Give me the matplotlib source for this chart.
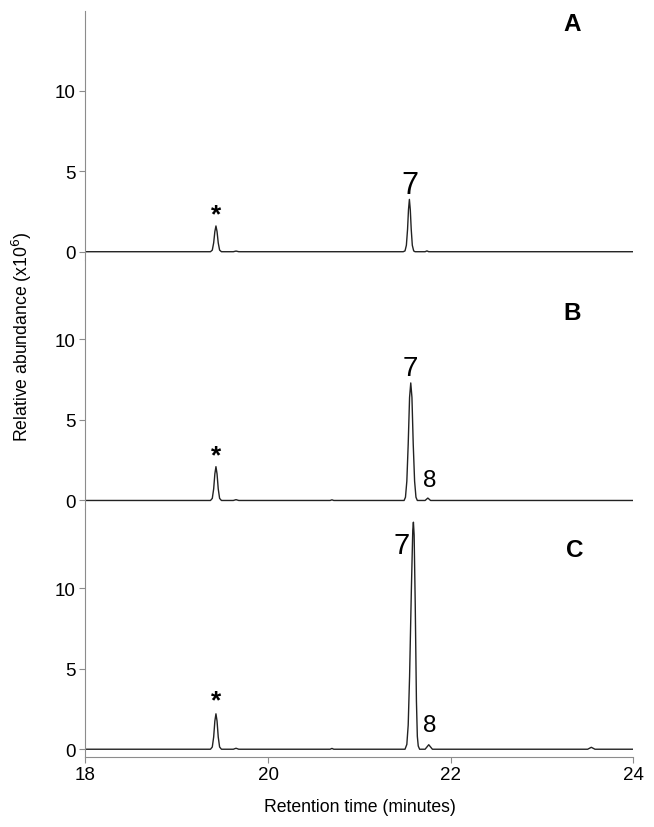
import matplotlib
matplotlib.use('Agg')
import matplotlib.pyplot as plt

plt.rcParams['font.family'] = ['Liberation Sans', 'DejaVu Sans']

# chromatogram traces (retention time in min, abundance x10^6)
times_a = [18.0, 19.37, 19.39, 19.405, 19.418, 19.43, 19.442, 19.455, 19.47, 19.49,
           19.62, 19.65, 19.68,
           21.48, 21.50, 21.515, 21.528, 21.538, 21.548, 21.558, 21.568, 21.58, 21.595, 21.61,
           21.72, 21.74, 21.76, 24.0]
abund_a = [0, 0, 0.1, 0.55, 1.25, 1.6, 1.25, 0.55, 0.1, 0,
           0, 0.04, 0,
           0, 0.05, 0.4, 1.4, 2.6, 3.25, 2.6, 1.4, 0.4, 0.05, 0,
           0, 0.05, 0, 0]

times_b = [18.0, 19.37, 19.39, 19.405, 19.418, 19.43, 19.442, 19.455, 19.47, 19.49,
           19.62, 19.65, 19.68, 20.68, 20.70, 20.72,
           21.49, 21.505, 21.52, 21.535, 21.55, 21.563, 21.576, 21.59, 21.605, 21.62, 21.635,
           21.72, 21.75, 21.78, 24.0]
abund_b = [0, 0, 0.13, 0.72, 1.65, 2.1, 1.65, 0.72, 0.13, 0,
           0, 0.05, 0, 0, 0.04, 0,
           0, 0.2, 1.2, 3.5, 6.4, 7.3, 6.4, 3.5, 1.2, 0.2, 0,
           0, 0.15, 0, 0]

times_c = [18.0, 19.37, 19.39, 19.405, 19.418, 19.43, 19.442, 19.455, 19.47, 19.49,
           19.62, 19.65, 19.68, 20.68, 20.70, 20.72,
           21.50, 21.52, 21.535, 21.55, 21.57, 21.585, 21.592, 21.60, 21.612, 21.625, 21.635,
           21.645, 21.66,
           21.72, 21.76, 21.80, 23.50, 23.54, 23.58, 24.0]
abund_c = [0, 0, 0.14, 0.76, 1.75, 2.2, 1.75, 0.76, 0.14, 0,
           0, 0.06, 0, 0, 0.05, 0,
           0, 0.3, 1.5, 4.5, 10.0, 13.6, 14.1, 13.3, 9.0, 3.0, 0.8,
           0.2, 0,
           0, 0.28, 0, 0, 0.12, 0, 0]

panel_letters = ['A', 'B', 'C']
# peak annotations: (text, x, y, fontsize)
peak_labels = [
    [('*', 19.43, 2.35, 19), ('7', 21.55, 4.15, 22)],
    [('*', 19.43, 2.8, 19), ('7', 21.56, 8.25, 20), ('8', 21.775, 1.25, 17.5)],
    [('*', 19.43, 3.05, 19), ('7', 21.46, 12.7, 21), ('8', 21.775, 1.5, 17.5)],
]
letter_pos = [(23.33, 14.2), (23.33, 11.7), (23.36, 12.4)]

xticks = [18, 20, 22, 24]
yticks = [0, 5, 10]

spine_col = '#8c8c8c'
trace_col = '#222222'

fig, axes = plt.subplots(3, 1, figsize=(6.54, 8.28), dpi=100, sharex=True)
fig.subplots_adjust(left=0.1305, right=0.9684, bottom=0.0842, top=0.9855, hspace=0)

traces = [(times_a, abund_a), (times_b, abund_b), (times_c, abund_c)]
for i, ax in enumerate(axes):
    t, a = traces[i]
    ax.plot(t, a, color=trace_col, lw=1.0)
    ax.set_xlim(18, 24)
    ax.set_ylim(-0.5, 14.95)
    ax.set_yticks(yticks)
    ax.spines['top'].set_visible(False)
    ax.spines['right'].set_visible(False)
    ax.spines['left'].set_color(spine_col)
    ax.spines['bottom'].set_color(spine_col)
    ax.tick_params(axis='y', colors=spine_col, labelcolor='black', labelsize=13.5,
                   length=4, width=0.8, pad=3)
    ax.tick_params(axis='x', colors=spine_col, labelcolor='black', labelsize=13.5,
                   length=4, width=0.8, pad=2)
    if i < 2:
        ax.spines['bottom'].set_visible(False)
        ax.tick_params(axis='x', bottom=False, labelbottom=False)
    for txt, x, y, fs in peak_labels[i]:
        wt = 'bold' if txt == '*' else 'normal'
        ax.text(x, y, txt, ha='center', va='center', fontsize=fs, fontweight=wt,
                color='black')
    lx, ly = letter_pos[i]
    ax.text(lx, ly, panel_letters[i], ha='center', va='center', fontsize=17.5,
            fontweight='bold', color='black')

axes[2].set_xticks(xticks)
fig.text(0.034, 0.593, 'Relative abundance (x10$^6$)', rotation=90,
         ha='center', va='center', fontsize=12.7)
fig.text(0.55, 0.025, 'Retention time (minutes)', ha='center', va='center', fontsize=12.7)

fig.savefig('out.png', dpi=100)
